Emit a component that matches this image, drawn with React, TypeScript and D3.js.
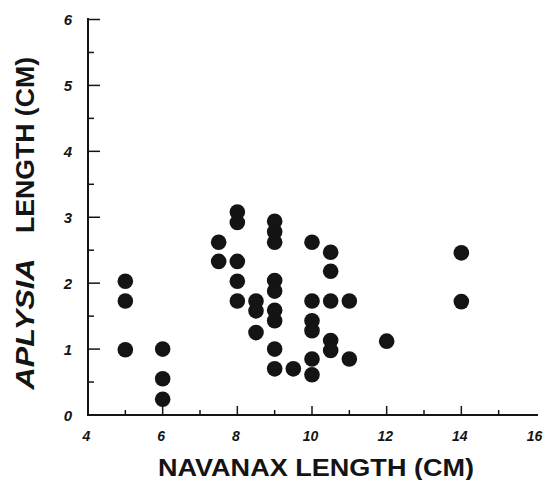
import React from "react";
import * as d3 from "d3";

const navanaxX: number[] = [
  5, 5, 5,
  6, 6, 6,
  7.5, 7.5,
  8, 8, 8, 8, 8,
  8.5, 8.5, 8.5,
  9, 9, 9, 9, 9, 9, 9, 9, 9,
  9.5,
  10, 10, 10, 10, 10, 10,
  10.5, 10.5, 10.5, 10.5, 10.5,
  11, 11,
  12,
  14, 14,
];
const aplysiaY: number[] = [
  2.03, 1.73, 0.99,
  1.0, 0.55, 0.24,
  2.62, 2.33,
  3.08, 2.92, 2.33, 2.03, 1.73,
  1.73, 1.58, 1.25,
  2.94, 2.78, 2.62, 2.04, 1.88, 1.59, 1.43, 1.0, 0.7,
  0.7,
  2.62, 1.73, 1.43, 1.28, 0.85, 0.61,
  2.47, 2.18, 1.73, 1.13, 0.98,
  1.73, 0.85,
  1.12,
  2.46, 1.72,
];
const xTickLabels: number[] = [4, 6, 8, 10, 12, 14, 16];
const yTickLabels: number[] = [0, 1, 2, 3, 4, 5, 6];

const W = 547;
const H = 480;
const FONT = "'Liberation Sans', Arial, Helvetica, sans-serif";
const INK = "#141414";

export default function App() {
  const x = d3.scaleLinear().domain([4, 16]).range([88, 536]);
  const y = d3.scaleLinear().domain([0, 6]).range([415, 19.5]);
  const xMinor = d3.range(5, 16, 1);
  const yMinor = d3.range(0.5, 6, 1);
  const pts = navanaxX.map((v, i) => [v, aplysiaY[i]]);

  return (
    <svg
      width={W}
      height={H}
      style={{ position: "absolute", left: 0, top: 0, background: "#fff" }}
    >
      {/* axes */}
      <line x1={x(4)} x2={x(4)} y1={y(6) - 1.5} y2={y(0)} stroke={INK} strokeWidth={2} />
      <line x1={x(4) - 1} x2={x(16) + 2} y1={y(0)} y2={y(0)} stroke={INK} strokeWidth={2} />

      {/* y ticks */}
      {yTickLabels.filter((v) => v > 0).map((v) => (
        <line key={"ym" + v} x1={x(4)} x2={x(4) + 12} y1={y(v)} y2={y(v)} stroke={INK} strokeWidth={1.5} />
      ))}
      {yMinor.map((v) => (
        <line key={"yn" + v} x1={x(4)} x2={x(4) + 6} y1={y(v)} y2={y(v)} stroke={INK} strokeWidth={1.5} />
      ))}
      {yTickLabels.map((v) => (
        <text
          key={"yl" + v}
          x={68}
          y={y(v) + 2}
          textAnchor="middle"
          dominantBaseline="middle"
          fontFamily={FONT}
          fontSize={15}
          fontWeight="bold"
          fontStyle="italic"
          fill={INK}
        >
          {v}
        </text>
      ))}

      {/* x ticks */}
      {xTickLabels.filter((v) => v > 4 && v < 16).map((v) => (
        <line key={"xm" + v} x1={x(v)} x2={x(v)} y1={y(0)} y2={y(0) - 9} stroke={INK} strokeWidth={1.5} />
      ))}
      {xMinor.filter((v) => v % 2 === 1).map((v) => (
        <line key={"xn" + v} x1={x(v)} x2={x(v)} y1={y(0)} y2={y(0) - 5} stroke={INK} strokeWidth={1.5} />
      ))}
      {xTickLabels.map((v) => (
        <text
          key={"xl" + v}
          x={x(v) - 1.5}
          y={440.5}
          textAnchor="middle"
          fontFamily={FONT}
          fontSize={14}
          fontWeight="bold"
          fontStyle="italic"
          fill={INK}
        >
          {v}
        </text>
      ))}

      {/* points */}
      {pts.map(([a, b], i) => (
        <circle key={"p" + i} cx={x(a)} cy={y(b)} r={7.8} fill={INK} />
      ))}

      {/* axis titles */}
      <text
        x={316}
        y={476}
        textAnchor="middle"
        fontFamily={FONT}
        fontSize={24.5}
        fontWeight="bold"
        textLength={316}
        lengthAdjust="spacingAndGlyphs"
        fill={INK}
      >
        NAVANAX LENGTH (CM)
      </text>
      <g transform="translate(33.5,0) rotate(-90)">
        <text
          x={-324}
          y={0}
          textAnchor="middle"
          fontFamily={FONT}
          fontSize={25}
          fontWeight="bold"
          fontStyle="italic"
          textLength={131}
          lengthAdjust="spacingAndGlyphs"
          fill={INK}
        >
          APLYSIA
        </text>
        <text
          x={-145}
          y={0}
          textAnchor="middle"
          fontFamily={FONT}
          fontSize={25}
          fontWeight="bold"
          textLength={176}
          lengthAdjust="spacingAndGlyphs"
          fill={INK}
        >
          LENGTH (CM)
        </text>
      </g>
    </svg>
  );
}
